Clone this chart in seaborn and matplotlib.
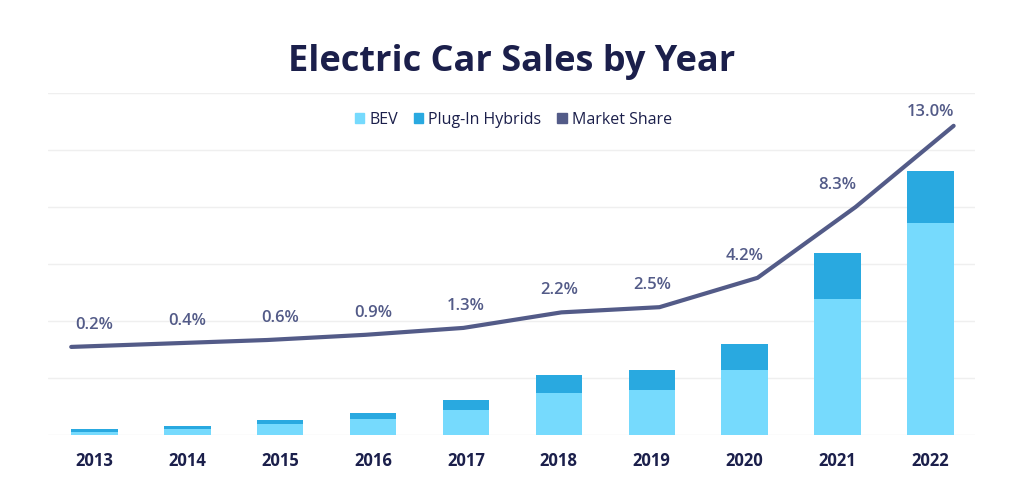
import numpy as np
import pandas as pd
import matplotlib
matplotlib.use("Agg")
import matplotlib.pyplot as plt
from matplotlib.patches import Patch
import seaborn as sns

# Data (sales in millions, share in %)
years = ["2013", "2014", "2015", "2016", "2017", "2018", "2019", "2020", "2021", "2022"]
bev = [0.10, 0.21, 0.37, 0.56, 0.88, 1.47, 1.58, 2.28, 4.77, 7.43]
phev = [0.11, 0.11, 0.15, 0.21, 0.35, 0.63, 0.70, 0.91, 1.62, 1.83]
share = [0.2, 0.4, 0.6, 0.9, 1.3, 2.2, 2.5, 4.2, 8.3, 13.0]
share_labels = ["0.2%", "0.4%", "0.6%", "0.9%", "1.3%", "2.2%", "2.5%", "4.2%", "8.3%", "13.0%"]

df = pd.DataFrame({"Year": years, "BEV": bev, "PHEV": phev, "Share": share})
df["Total"] = df["BEV"] + df["PHEV"]

c_bev = "#76DAFD"
c_phev = "#29A9E0"
c_line = "#535B88"
c_title = "#1B1F4B"

sns.set_theme(style="white")
plt.rcParams["font.family"] = ["Open Sans", "DejaVu Sans"]

fig = plt.figure(figsize=(10.24, 4.98), dpi=100)
ax = fig.add_axes([48 / 1024, 63 / 498, 927 / 1024, 342 / 498])

# stacked bars: total drawn first in PHEV colour, BEV on top of it
sns.barplot(data=df, x="Year", y="Total", color=c_phev, width=0.5, saturation=1,
            linewidth=0, ax=ax)
sns.barplot(data=df, x="Year", y="BEV", color=c_bev, width=0.5, saturation=1,
            linewidth=0, ax=ax)

ax.set_xlim(-0.5, 9.48)
ax.set_ylim(0, 12)
ax.set_yticks(np.arange(0, 13, 2))
ax.set_yticklabels([])
ax.grid(axis="y", color="#EFEFEF", linewidth=1)
ax.set_axisbelow(True)
ax.set_xlabel("")
ax.set_ylabel("")
for s in ax.spines.values():
    s.set_visible(False)
ax.tick_params(axis="x", length=0, pad=12)
ax.tick_params(axis="y", length=0)
for lbl in ax.get_xticklabels():
    lbl.set_fontsize(12)
    lbl.set_fontweight("bold")
    lbl.set_color(c_title)

# market share line on a twin axis
ax2 = ax.twinx()
line_x = np.linspace(-0.25, 9.25, len(years))
sns.lineplot(x=line_x, y=df["Share"], color=c_line, linewidth=3, ax=ax2)
ax2.set_ylim(-4.9, 14.9)
ax2.set_yticks([])
ax2.set_ylabel("")
for s in ax2.spines.values():
    s.set_visible(False)

for i, (v, t) in enumerate(zip(share, share_labels)):
    off = 10 if i == len(share) - 1 else 16
    ax2.annotate(t, (i, v), xytext=(0, off),
                 textcoords="offset points", ha="center", va="center",
                 fontsize=12, fontweight="semibold", color=c_line)

handles = [Patch(color=c_bev, label="BEV"),
           Patch(color=c_phev, label="Plug-In Hybrids"),
           Patch(color=c_line, label="Market Share")]
leg = ax2.legend(handles=handles, loc="center", bbox_to_anchor=(0.502, 0.922), ncol=3,
                 frameon=False, fontsize=11.5, handlelength=0.6, handleheight=0.6,
                 handletextpad=0.3, columnspacing=1.0)
for t in leg.get_texts():
    t.set_color(c_title)

fig.text(0.5, 0.876, "Electric Car Sales by Year", ha="center", va="center",
         fontsize=26, fontweight="bold", color=c_title)

fig.savefig("out.png", dpi=100)
